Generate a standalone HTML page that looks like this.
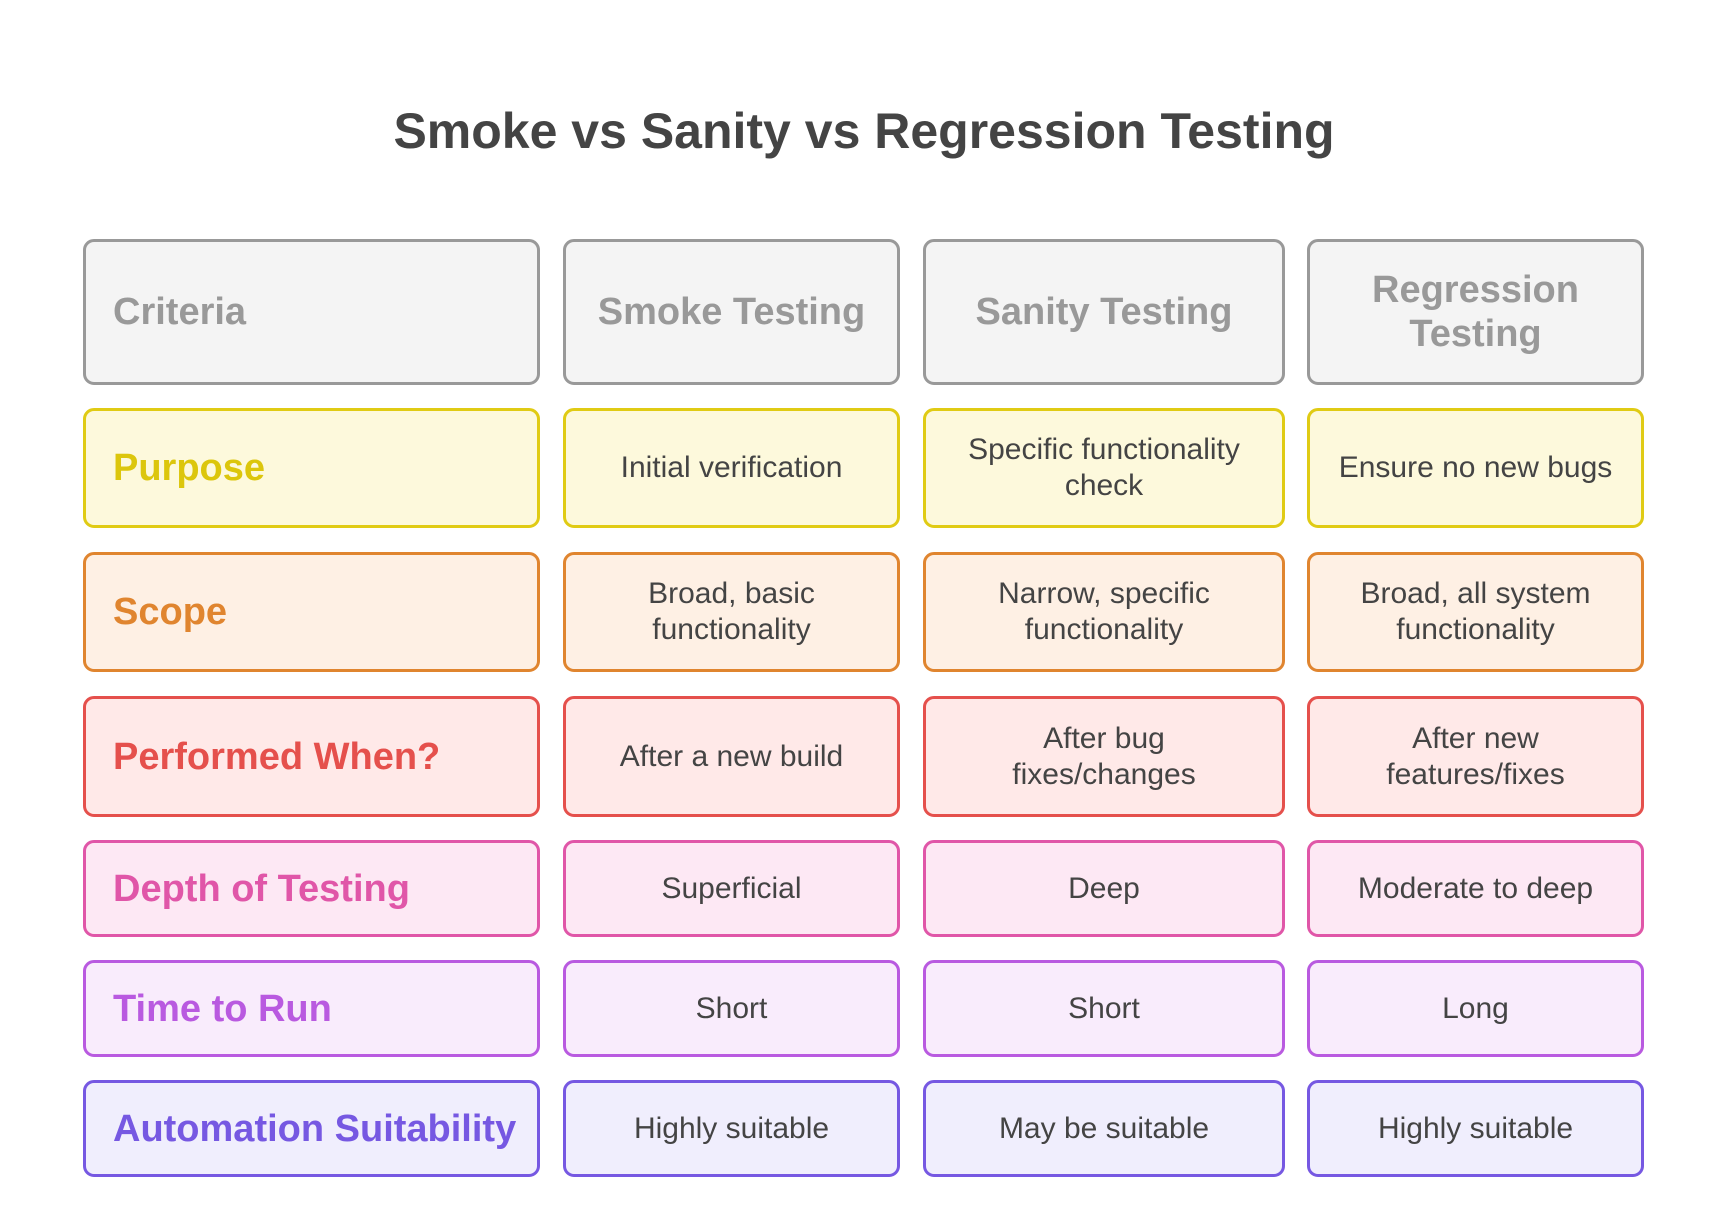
<!DOCTYPE html>
<html><head><meta charset="utf-8"><style>
body{margin:0;width:1728px;height:1224px;background:#fff;font-family:"Liberation Sans",Arial,sans-serif;position:relative;overflow:hidden}
.t{position:absolute;left:0;width:1728px;top:101px;text-align:center;font-weight:bold;font-size:50px;color:#444;line-height:60px}
.c{position:absolute;box-sizing:border-box;border:3.3px solid;border-radius:11px;display:flex;align-items:center;justify-content:center;text-align:center}
.c span{display:inline-block;font-size:30px;color:#444;line-height:36px}
.c.l{justify-content:flex-start;padding-left:27px;text-align:left}
.c.l span{font-weight:bold;font-size:38px;white-space:nowrap;line-height:42px}
.h span{font-weight:bold;font-size:38px;color:#999!important;line-height:44px}
</style></head><body>
<div class="t">Smoke vs Sanity vs Regression Testing</div>
<div id="g"></div>
<script>
var cols=[[83,540],[563,900],[923,1285],[1307,1644]];
var rows=[[239,385,'#999','#f4f4f4','#999'],[408,528,'#e0cb14','#fdf9dc','#dcc60c'],[552,672,'#e0852f','#fef0e4','#e0852f'],[696,817,'#e5504c','#ffe9e8','#e5504c'],[840,937,'#e056a8','#fde8f4','#e056a8'],[960,1057,'#b95ae0','#f9ecfc','#b95ae0'],[1080,1177,'#7658e2','#f0eefd','#7658e2']];
var txt=[["Criteria","Smoke Testing","Sanity Testing","Regression<br>Testing"],
["Purpose","Initial verification","Specific functionality<br>check","Ensure no new bugs"],
["Scope","Broad, basic<br>functionality","Narrow, specific<br>functionality","Broad, all system<br>functionality"],
["Performed When?","After a new build","After bug<br>fixes/changes","After new<br>features/fixes"],
["Depth of Testing","Superficial","Deep","Moderate to deep"],
["Time to Run","Short","Short","Long"],
["Automation Suitability","Highly suitable","May be suitable","Highly suitable"]];
var h='';
rows.forEach(function(r,i){cols.forEach(function(c,j){
var cls='c'+(j==0?' l':'')+(i==0?' h':'');
var st=(j==0||i==0)?'color:'+r[4]+';':'';
h+='<div class="'+cls+'" style="left:'+c[0]+'px;top:'+r[0]+'px;width:'+(c[1]-c[0])+'px;height:'+(r[1]-r[0])+'px;border-color:'+r[2]+';background:'+r[3]+'"><span style="'+st+'">'+txt[i][j]+'</span></div>';});});
document.getElementById('g').innerHTML=h;
</script>
</body></html>
